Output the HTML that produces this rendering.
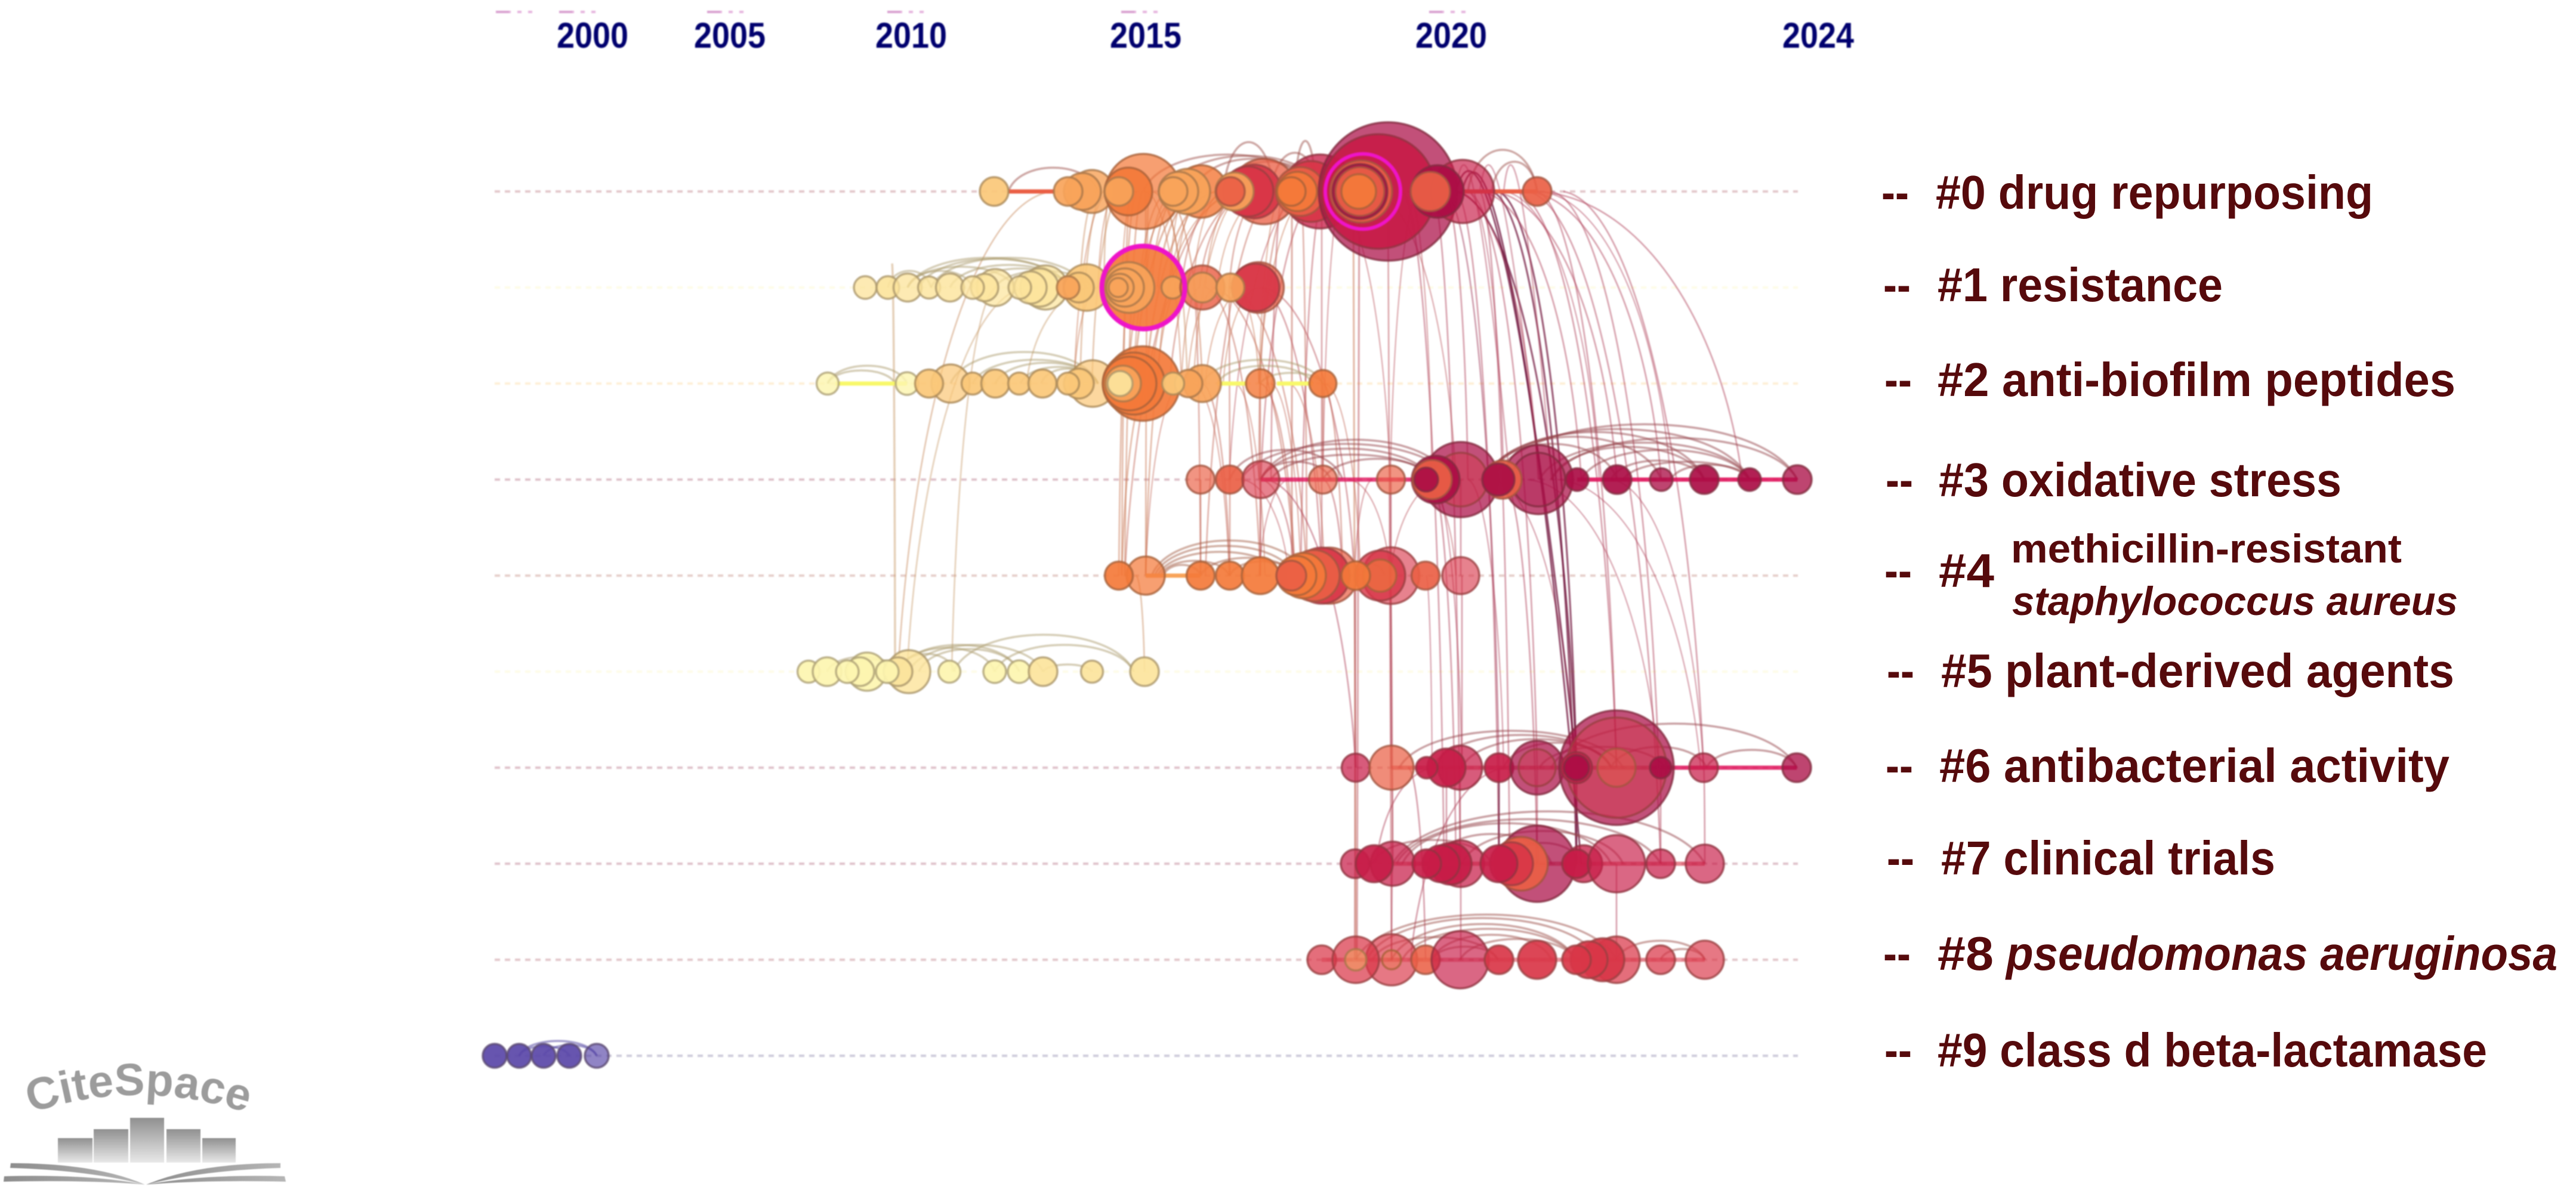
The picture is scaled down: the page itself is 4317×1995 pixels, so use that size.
<!DOCTYPE html>
<html lang="en">
<head>
<meta charset="utf-8">
<title>CiteSpace timeline view</title>
<style>
html,body{margin:0;padding:0;background:#fff;}
svg{display:block;}
.lab{font-family:"Liberation Sans",sans-serif;font-weight:700;fill:#560a0c;}
.tick{font-family:"Liberation Sans",sans-serif;font-weight:700;fill:#00006e;}
</style>
</head>
<body>
<svg id="chart" xmlns="http://www.w3.org/2000/svg" width="4317" height="1995" viewBox="0 0 4317 1995">
  <defs>
    <linearGradient id="barFade" x1="0" y1="0" x2="0" y2="1">
      <stop offset="0" stop-color="#909090"/>
      <stop offset="1" stop-color="#e8e8e8"/>
    </linearGradient>
    <linearGradient id="pageFade" x1="0" y1="0" x2="1" y2="0">
      <stop offset="0" stop-color="#8d8d8d"/>
      <stop offset="1" stop-color="#b5b5b5"/>
    </linearGradient>
  </defs>
  <rect width="4317" height="1995" fill="#ffffff"/>
  <g id="plot" style="filter:blur(1px)"></g>

  <g>
    <g>
      <text class="lab" x="3153" y="350" font-size="80" textLength="46" lengthAdjust="spacingAndGlyphs">--</text>
      <text class="lab" x="3244" y="350" font-size="80" textLength="733" lengthAdjust="spacingAndGlyphs">#0 drug repurposing</text>
    </g>
    <g>
      <text class="lab" x="3156" y="505" font-size="80" textLength="46" lengthAdjust="spacingAndGlyphs">--</text>
      <text class="lab" x="3247" y="505" font-size="80" textLength="478" lengthAdjust="spacingAndGlyphs">#1 resistance</text>
    </g>
    <g>
      <text class="lab" x="3158" y="664" font-size="80" textLength="46" lengthAdjust="spacingAndGlyphs">--</text>
      <text class="lab" x="3247" y="664" font-size="80" textLength="868" lengthAdjust="spacingAndGlyphs">#2 anti-biofilm peptides</text>
    </g>
    <g>
      <text class="lab" x="3160" y="832" font-size="80" textLength="46" lengthAdjust="spacingAndGlyphs">--</text>
      <text class="lab" x="3249" y="832" font-size="80" textLength="675" lengthAdjust="spacingAndGlyphs">#3 oxidative stress</text>
    </g>
    <g>
      <text class="lab" x="3158" y="984" font-size="80" textLength="46" lengthAdjust="spacingAndGlyphs">--</text>
      <text class="lab" x="3249" y="984" font-size="80" textLength="93" lengthAdjust="spacingAndGlyphs">#4</text>
      <text class="lab" x="3370" y="943" font-size="68" textLength="655" lengthAdjust="spacingAndGlyphs">methicillin-resistant</text>
      <text class="lab" x="3372" y="1031" font-size="68" font-style="italic" textLength="747" lengthAdjust="spacingAndGlyphs">staphylococcus aureus</text>
    </g>
    <g>
      <text class="lab" x="3162" y="1152" font-size="80" textLength="46" lengthAdjust="spacingAndGlyphs">--</text>
      <text class="lab" x="3253" y="1152" font-size="80" textLength="860" lengthAdjust="spacingAndGlyphs">#5 plant-derived agents</text>
    </g>
    <g>
      <text class="lab" x="3160" y="1311" font-size="80" textLength="46" lengthAdjust="spacingAndGlyphs">--</text>
      <text class="lab" x="3250" y="1311" font-size="80" textLength="855" lengthAdjust="spacingAndGlyphs">#6 antibacterial activity</text>
    </g>
    <g>
      <text class="lab" x="3162" y="1466" font-size="80" textLength="46" lengthAdjust="spacingAndGlyphs">--</text>
      <text class="lab" x="3253" y="1466" font-size="80" textLength="560" lengthAdjust="spacingAndGlyphs">#7 clinical trials</text>
    </g>
    <g>
      <text class="lab" x="3156" y="1626" font-size="80" textLength="46" lengthAdjust="spacingAndGlyphs">--</text>
      <text class="lab" x="3247" y="1626" font-size="80" textLength="94" lengthAdjust="spacingAndGlyphs">#8</text>
      <text class="lab" x="3362" y="1626" font-size="80" font-style="italic" textLength="924" lengthAdjust="spacingAndGlyphs">pseudomonas aeruginosa</text>
    </g>
    <g>
      <text class="lab" x="3158" y="1788" font-size="80" textLength="46" lengthAdjust="spacingAndGlyphs">--</text>
      <text class="lab" x="3247" y="1788" font-size="80" textLength="921" lengthAdjust="spacingAndGlyphs">#9 class d beta-lactamase</text>
    </g>
  </g>

  <g style="filter:blur(.8px)">
    <path id="logoArc" d="M52,1866 Q245,1800 450,1878" fill="none"/>
    <text font-family="'Liberation Sans',sans-serif" font-weight="700" font-size="76" fill="#9c9c9c"><textPath href="#logoArc">CiteSpace</textPath></text>
    <rect x="97" y="1908" width="58" height="41" fill="url(#barFade)"/>
    <rect x="157" y="1893" width="58" height="56" fill="url(#barFade)"/>
    <rect x="218" y="1874" width="57" height="75" fill="url(#barFade)"/>
    <rect x="279" y="1893" width="57" height="56" fill="url(#barFade)"/>
    <rect x="339" y="1908" width="56" height="41" fill="url(#barFade)"/>
    <path d="M18,1950 L17,1958 Q150,1962 243,1986 Q160,1950 18,1950Z" fill="url(#pageFade)"/>
    <path d="M7,1972 L6,1981 Q150,1978 243,1986 Q150,1968 7,1972Z" fill="url(#pageFade)"/>
    <path d="M470,1950 L470,1958 Q340,1962 245,1986 Q330,1950 470,1950Z" fill="url(#pageFade)"/>
    <path d="M477,1972 L479,1981 Q340,1978 245,1986 Q340,1968 477,1972Z" fill="url(#pageFade)"/>
  </g>
</svg>

<script>
// Axis tick data (timeline slice units)
const tickYears = [2000, 2005, 2010, 2015, 2020, 2024];
const tickSlices = [19.3, 42.3, 72.7, 112, 163.2, 224.7];
const faintTickSlices = [6.7, 17.3, 42.1, 72.3, 111.5, 163.1];

// Cluster 0: drug repurposing
const c0Time = [86.6,103,101.4,99,111.6,109.1,107.5,121.3,119,117.5,116.6,131.8,130.2,129.2,126.9,126.2,141.2,139.7,137.9,137.4,136.4,152.6,151,148.1,147.9,147.9,147.7,165.1,160.9,159.7,177.6];
const c0Size = [24,36,31,24,63,40,24,44,38,33,24,55,45,42,32,24,62,51,41,33,24,116,96,52,46,41,29,53,44,33,24];
const c0Heat = [2,3.1,3,3,4.2,4,3,4.1,3,3,3,5.15,6,6,3,5,7.15,6,5,4,4,8.2,7,5,8,5,4,7.25,8,5,5];
// Cluster 1: resistance
const c1Time = [65,68.8,72.1,75.7,79.2,86.8,85,83,95.2,94.2,92.7,90.9,102.1,100.8,99,111.6,109.2,108.5,107.7,107.4,116.5,121.5,121.5,130.9,130.4,126.2];
const c1Size = [19,19,23.5,18.5,23.5,31,23,19,37,32,27,19,39,25,19,69.5,42.5,32,23,16,18.5,37,25,42.5,40,23.5];
const c1Heat = [1.15,1,1.15,1.1,1.1,1.2,1.1,1.15,1.2,1.1,1.1,1.15,2,2,3,4,3,3,3,3,3,5.1,3.1,5.2,6,3];
// Cluster 2: anti-biofilm peptides
const c2Time = [58.7,72,79.3,75.7,83,86.8,90.8,94.7,103.1,100.8,99,111.5,110,109.3,108.2,107.7,121.5,119.2,116.6,131.2,141.7];
const c2Size = [18.5,19,32,23.5,18.5,23.5,18.5,23.5,39,25,18.5,62.5,52,45,30,21,31,23,18.5,24,22.7];
const c2Heat = [0.1,0.1,2.2,2,2,2,2,2,2.2,2,2,4,4,4,3,1,3,3,2,4.1,4];
// Cluster 3: oxidative stress
const c3Time = [121.2,126.1,131.3,141.7,153.1,164.8,164.8,160.6,160,159,177.8,177.8,171.8,171.1,184.3,191,198.4,205.6,213.2,221.2];
const c3Size = [23.5,23.5,31,23.5,23.5,63,45,40,33,20,58,45,32,27,19,24,19,24,19,24];
const c3Heat = [5.25,5,6.3,5.25,5.25,8.2,6.5,8,5,8,8.2,8.6,5,8,8,8,8.15,8,8,8.15];
// Cluster 4: methicillin-resistant staphylococcus aureus
const c4Time = [112,107.5,121.2,126.1,131.2,142.8,141.5,140.2,138.4,137.3,136.4,153.1,151.3,151.3,147.2,158.9,164.8];
const c4Size = [32,23.5,23.5,23.5,31,47,47,43,38,33,25,47.5,42,27,24,23.5,31];
const c4Heat = [4.2,4,4,4,4,5.2,6,5,4,4,5,6.3,6.1,4.3,4,5,6.3];
// Cluster 5: plant-derived agents
const c5Time = [55.5,58.6,65.3,64.1,62,72.3,70.5,68.7,79.1,86.7,90.8,94.8,103,111.8];
const c5Size = [18.5,24,32,24,19,36,24,19,18.5,19,19,24,18.5,24];
const c5Heat = [0,0,0,0,0,1.1,1,0,0,0,0,1,1,1];
// Cluster 6: antibacterial activity
const c6Time = [147.2,153.2,164.7,162.4,159.1,171.2,177.6,177.6,190.9,190.9,190.9,184.2,184.2,198.3,205.5,221.1];
const c6Size = [23.5,37,37,32,18,24,45,31,96,84,32,26,21,18,24,24];
const c6Heat = [7.2,5.2,7.2,7,7,7,8.2,6.6,8.2,6.5,5.5,7.1,8,8,7.2,8.15];
// Cluster 7: clinical trials
const c7Time = [147.1,153.4,150.3,164.8,163.1,161.5,159.1,177.6,174.9,173.3,171.2,185.4,184.2,190.9,198.3,205.7];
const c7Size = [24,37,31,39,35,31,24,64,45,36,31,31,24,48,24,32];
const c7Heat = [7.2,7.2,7,7.2,7,7,7,8.2,5,6,7,7.15,7,7.25,7.2,7.25];
// Cluster 8: pseudomonas aeruginosa
const c8Time = [141.5,153.2,153.2,147.2,147.2,158.9,164.7,171.2,177.6,190.9,188.6,186.3,184.2,198.3,205.7];
const c8Size = [24,43,16,39,18,24,48,24,32,39,36,31,24,24,32];
const c8Heat = [6.2,6.25,4.6,6.2,3.4,5.05,7.25,6,6,6.2,6,6,6,6.2,6.25];
// Cluster 9: class d beta-lactamase
const c9Time = [2.9,7,11.1,15.4,20];
const c9Size = [20,20,20,20,20];
const c9Heat = [9,9,9,9,9.25];

const clusterTimes = [c0Time,c1Time,c2Time,c3Time,c4Time,c5Time,c6Time,c7Time,c8Time,c9Time];
const clusterSizes = [c0Size,c1Size,c2Size,c3Size,c4Size,c5Size,c6Size,c7Size,c8Size,c9Size];
const clusterHeats = [c0Heat,c1Heat,c2Heat,c3Heat,c4Heat,c5Heat,c6Heat,c7Heat,c8Heat,c9Heat];
const clusterLineHeat = [6,0,2,7,5,0,7,7,6,9];
const clusterLineEnd = [221.3,221.3,221.3,221.3,221.3,221.3,221.3,221.3,221.3,221.3];
const clusterLineStart = [2.9,2.9,2.9,2.9,2.9,2.9,2.9,2.9,2.9,2.9];

// High-centrality rings (magenta)
const burstRow = [0,1];
const burstTime = [148.4,111.6];
const burstSize = [63,69.5];

// Thick burst spans along cluster lines
const spanRow = [0,0,2,2,2,3,3,4,6,6,7,8];
const spanStart = [89,165,60,124,134,131.3,184.3,112,153.2,198.3,153.4,141.5];
const spanEnd = [96.6,177.6,72,129,140,160,221.2,121.2,198.3,221.1,205.7,205.7];
const spanHeat = [5,5,0,0,0,7.2,7.1,3,6.4,7.15,6.4,6.5];

// Arcs within each cluster: start, end (slices), rise above the line
const arcStart = [
 [89,111.6,116,120,124,125,137,133,166,170],
 [72.1,74,76,72.1,79.2,83,86.8,68.8,72.1],
 [58.7,58.7,79.3,83,86.8,91,94.5,121.5,124,131.2],
 [131.3,128,131.3,133,141.7,126.1,131.3,170,169,169,169,169,180,178,180,185,190,192,200],
 [113,113.5,114,114.5,115,121.2,126.1,147.2],
 [79.8,86.7,70.5,70.5,70.5,72.3,74,58.6,62,94.8],
 [180,154.5,160,165,172,178,206,190],
 [153.4,154,155,160,165,172,150],
 [147.2,149,153.2,155,160,164.7,150,160,190.9,198.3],
 [7,11.1,7]
];
const arcEnd = [
 [104,140,142,140,141,133.5,140.5,141,177.6,177.6],
 [99,99,102.1,90,99,99,103,76,83],
 [72,70,104,104,104,104,103.5,141.7,140,141.7],
 [163,163,160,160,160,145,143,221.2,213.2,205.6,198.4,191,221.2,213.2,205.6,213.2,205.6,213.2,213.2],
 [139,137,135,126,121.2,137,137,152],
 [110,110,90.8,86.7,80,94.8,90.8,70.5,70.5,103],
 [221.1,192,190,190,190,199,221.1,206],
 [205.7,198.3,190,180,192,185,170],
 [190.9,188,184,184,180,184,171,171,205.7,205.7],
 [20,20,15.4]
];
const arcRise = [
 [40,62,60,55,50,83,85,65,70,50],
 [50,48,50,35,38,32,28,28,28],
 [30,22,53,40,35,28,25,40,30,18],
 [67,60,52,42,35,50,30,93,85,80,72,60,70,62,55,50,32,30,25],
 [59,50,40,25,18,30,24,20],
 [62,45,45,40,30,45,38,25,20,12],
 [74,62,55,48,42,35,30,35],
 [88,75,68,50,55,35,40],
 [76,70,60,52,42,35,38,22,32,18],
 [25,18,16]
];

// Links between clusters
const linkFromRow = [0,0.75,1,1,1,0,0,0,0,0,
 0,0,0,0,0,0,0,0,0,0,
 0,0,0,0,0,0,0,0,0,0,
 0,0,1,1,1,1,1,1,2,2,
 2,1,1,2,2,2,2,3,3,3,
 3,3,3,3,0,0,0,0,0,0,
 0,3,0,0,0,0,0,0,0,0,
 0,0,0,0,0,0,0,0,7,7,
 6,7,6,6,6,6,6,6,6,6,
 6,6,3,3,4,4,0,0,3,0,
 0,0,0,0,0,0,0,0,0,0,
 1,1,1,1,1,1,1,1,
 0,0,0,0,0,0,
 2,2,2,2,2,2,
 0,0,0,0,0,0,
 3,3,3,3,3,3,
 3,3,3,3,3,3,
 4,4,4,4,4,
 0,0,0];
const linkFromTime = [96.3,69.5,87,92,103,104,105,106,108,109.5,
 110.5,111.5,112.5,114,115,118,118.5,121,121.5,124,
 126,127,130,130,132,134,136.5,137,138,141.5,
 141.5,142,122,123,126,131,131.5,117.5,112.5,131.2,
 141.7,120,126,121.5,131.2,131.2,141.7,131.3,121.2,126.1,
 131.3,141.7,153.1,164.8,146.8,147.8,152.6,155,160,162,
 164,172,168,166,170,171,164,174,177.6,176,
 180,182,177.6,176,170,168,164,162,164.8,190.9,
 153.2,153.4,156,160.5,172.6,184.2,198.3,205.5,177.6,171.2,
 162.4,164.7,132,153,165,110.4,112,116,160,135,
 107,110,113,117,119,122,125,128,129,133,
 104,112,118,121,124,127,131,129,
 106,112,123,129,135,140,
 118,120,127,133,136,142,
 139,143,145,150,156,158,
 128,136,146,150,158,162,
 160,166,170,176,181,190,
 147,153,159,147.2,153,
 166,172,178];
const linkToRow = [5,5,5,5,2,1,2,1,2,4,
 4,4,4,2,2,1,2,2,1,2,
 1,4,1,2,1,4,4,2,4,4,
 3,4,4,4,4,4,4,4,4,4,
 3,4,3,4,4,3,4,4,4,4,
 4,4,4,4,8,8,8,7,7,6,
 7,7,7,6,7,6,6,6,6,7,
 6,6,3,3,3,3,3,3,8,8,
 7,8,8,7,8,7,7,7,7,7,
 7,7,6,6,6,5,1,1,7,3,
 1,1,1,1,1,1,1,1,1,1,
 2,2,2,2,2,2,2,2,
 2,2,2,2,2,2,
 4,4,4,4,4,4,
 3,3,3,3,3,3,
 4,4,4,4,4,4,
 6,6,6,6,6,6,
 6,6,6,8,7,
 3,3,3];
const linkToTime = [70.5,70,79.5,72,92,101,101,105,103,108,
 107.5,108.5,112,119,121.5,113,109,110,114,112,
 118,108.5,121,116,126,122,136.5,131.2,139,141.5,
 131.3,138,131.2,137,139,141.5,147,112,108,131.2,
 141.7,121.2,126.1,126.1,137,131,145,137,121.2,126.1,
 131.2,145,153.1,164.8,147.2,147.4,153.2,162,164.7,171.2,
 171.2,177.6,173,177.6,184.2,184.2,184.2,190.9,190.9,198.3,
 198,205.5,212,198.4,191,185,177.8,166,164.8,190.9,
 153.4,153.2,158.9,150.6,156.4,184.2,198.3,205.7,177.6,171.2,
 162.4,164.7,147.2,153.2,165,111.8,112,111,164,133,
 104,108,118,112,116,117,120,122,116,124,
 100,110,113,118,119,131,125,122,
 100,118,114,120,131,131,
 112,126,132,138,142,148,
 126,153,141.7,164,160,153,
 136,131,153,147,164,153,
 165,172,184,198,205,205.5,
 147.2,153.2,160,147,153.4,
 172,188,200];
const linkHeat = [3,2,2,2,2,3,3,3,3,4,
 4,4,4,3,4,4,4,4,4,4,
 5,5,5,5,5,5,5,5,5,6,
 6,6,5,5,5,6,6,4,4,5,
 5,5,5,5,5,5,5,6,5,5,
 6,6,6,7,4,6,6,7,7,8,
 7,7,7,7,8,8,8,7,7,7,
 7,7,7,7,7,7,7,7,7,7,
 7,7,7,7,7,8,7,7,7,8,
 7,7,7,7,7,3,4,4,7,6,
 4,4,4,4,4,4,4,4,4,4,
 4,4,4,4,4,4,4,4,
 4,4,4,4,4,4,
 5,5,5,5,5,5,
 6,6,6,6,6,6,
 6,6,6,6,6,6,
 7,7,7,7,7,7,
 7,7,7,6,6,
 7,7,7];
const linkWeight = [2.5,3.5,2.5,2.5,2.5,2.5,2.5,2.5,2.5,2.5,
 2.5,2.5,2.5,2.5,2.5,2.5,2.5,3,3,3,
 2.5,2.5,2.5,2.5,2.5,2.5,3,2.5,2.5,2.5,
 2.5,2.5,2.5,2.5,2.5,2.5,2.5,2.5,2.5,2.5,
 2.5,2.5,2.5,2.5,2.5,2.5,2.5,2.5,2.5,2.5,
 2.5,2.5,2.5,2.5,3,3,2.5,2.5,2.5,2.5,
 2.5,2.5,2.5,2.5,3,3,3,2.5,2.5,2.5,
 2.5,2.5,2.5,2.5,2.5,2.5,2.5,2.5,2.5,2.5,
 2.5,2.5,2.5,2.5,2.5,3,2.5,2.5,2.5,3,
 2.5,2.5,2.5,2.5,2.5,2.5,2.5,2.5,2.5,2.5,
 2,2,2,2,2,2,2,2,2,2,
 2,2,2,2,2,2,2,2,
 2,2,2,2,2,2,
 2,2,2,2,2,2,
 2,2,2,2,2,2,
 2,2,2,2,2,2,
 2,2,2,2,2,2,
 2,2,2,2,2,
 2,2,2];

// Links that rise above cluster 0 before falling to their target
const archFromTime = [164,165,164,172,168];
const archToRow = [6,7,3,3,3];
const archToTime = [184.2,185,173,180,178];
const archHeat = [8,8,7,7,7];

// Axis functions
function xScale(slice) { return 800 + slice * 10; }
function yScale(row) { return 321 + row * 161; }
function rScale(size) { return size; }

// Colour scale from publication-time heat; fractional part fades the mark
function heatColor(heat) {
  const stops = ['#fdf5b0','#fce49c','#fbc878','#f8a45a','#f47a3a','#ea5f45','#d93648','#c81c48','#ab0d45','#5a47a8'];
  return stops[Math.min(9, Math.max(0, Math.floor(heat)))];
}
function heatFade(heat) { return heat - Math.floor(heat); }
function mix(a, b, k) {
  const p = h => [parseInt(h.slice(1,3),16),parseInt(h.slice(3,5),16),parseInt(h.slice(5,7),16)];
  const A = p(a), B = p(b);
  return 'rgb(' + A.map((v,i) => Math.round(v + (B[i]-v)*k)).join(',') + ')';
}

const SVGNS = 'http://www.w3.org/2000/svg';
const plot = document.getElementById('plot');
function make(tag, attrs, parent) {
  const el = document.createElementNS(SVGNS, tag);
  for (const key in attrs) el.setAttribute(key, attrs[key]);
  parent.appendChild(el);
  return el;
}
function group(parent) { return make('g', {}, parent); }

// Cluster guide lines
const guideGroup = group(plot);


clusterLineHeat.forEach((h, row) => {
  const base = heatColor(h);
  const line = make('line', {
    x1: xScale(clusterLineStart[row]), x2: xScale(clusterLineEnd[row]),
    y1: yScale(row), y2: yScale(row),
    stroke: h <= 2 ? base : mix(base, '#aaaaaa', 0.6),
    'stroke-opacity': h <= 2 ? 0.3 : 0.42,
    'stroke-width': 4, 'stroke-dasharray': '9 8'
  }, guideGroup);
  
  
});

// Inter-cluster links
const linkGroup = group(plot);


linkFromTime.forEach((t, i) => {
  const x1 = xScale(t), y1 = yScale(linkFromRow[i]);
  const x2 = xScale(linkToTime[i]), y2 = yScale(linkToRow[i]);
  const dx = x2 - x1, dy = y2 - y1;
  const d = 'M' + x1 + ',' + y1 + ' C' + (x1 + 0.5*dx) + ',' + (y1 + 0.02*dy) + ' ' + (x1 + 0.9*dx) + ',' + (y1 + 0.45*dy) + ' ' + x2 + ',' + y2;
  const dark = linkWeight[i] >= 3 && linkHeat[i] >= 8;
  const link = make('path', {
    d: d, fill: 'none',
    stroke: dark ? '#6d0f38' : mix(heatColor(linkHeat[i]), '#806060', 0.4),
    'stroke-opacity': dark ? 0.72 : 0.5,
    'stroke-width': linkWeight[i]
  }, linkGroup);
  
  
});
archFromTime.forEach((t, i) => {
  const x1 = xScale(t), y1 = yScale(0);
  const x2 = xScale(archToTime[i]), y2 = yScale(archToRow[i]);
  const dx = x2 - x1, dy = y2 - y1;
  const d = 'M' + x1 + ',' + y1 + ' C' + (x1 + 0.2*dx) + ',' + (y1 - 150) + ' ' + (x1 + 0.6*dx) + ',' + (y1 + 0.2*dy) + ' ' + x2 + ',' + y2;
  const strong = archHeat[i] >= 8;
  const arch = make('path', {
    d: d, fill: 'none',
    stroke: strong ? '#6d0f38' : mix(heatColor(archHeat[i]), '#806060', 0.4),
    'stroke-opacity': strong ? 0.75 : 0.45,
    'stroke-width': strong ? 3 : 2.5
  }, linkGroup);
  
  
});

// Within-cluster arcs
const arcGroup = group(plot);


arcStart.forEach((starts, row) => {
  const y = yScale(row);
  starts.forEach((s, i) => {
    const x1 = xScale(s), x2 = xScale(arcEnd[row][i]);
    const dx = x2 - x1, h = arcRise[row][i] * 1.33;
    const d = 'M' + x1 + ',' + y + ' C' + (x1 + 0.12*dx) + ',' + (y - h) + ' ' + (x2 - 0.12*dx) + ',' + (y - h) + ' ' + x2 + ',' + y;
    const arc = make('path', {
      d: d, fill: 'none',
      stroke: mix(heatColor(clusterLineHeat[row] <= 2 ? 1 : clusterLineHeat[row]), row === 9 ? '#3a3090' : '#6a6048', 0.55),
      'stroke-opacity': 0.5,
      'stroke-width': 3.5
    }, arcGroup);
    
    
  });
});

// Burst spans along cluster lines
const spanGroup = group(plot);


spanStart.forEach((s, i) => {
  const pale = spanHeat[i] < 1;
  const span = make('line', {
    x1: xScale(s), x2: xScale(spanEnd[i]), y1: yScale(spanRow[i]), y2: yScale(spanRow[i]),
    stroke: pale ? '#f8f86a' : (spanHeat[i] >= 7 ? '#e0145c' : heatColor(spanHeat[i])),
    'stroke-opacity': 1 - heatFade(spanHeat[i]),
    'stroke-width': 7
  }, spanGroup);
  
  
});

// Citation nodes (tree rings), in drawing order
const nodeGroup = group(plot);


clusterTimes.forEach((times, row) => {
  const rowGroup = group(nodeGroup);
  
  
  times.forEach((t, i) => {
    const heat = clusterHeats[row][i];
    const color = heatColor(heat);
    const node = make('circle', {
      cx: xScale(t), cy: yScale(row), r: rScale(clusterSizes[row][i]),
      fill: color,
      'fill-opacity': (0.92 - heatFade(heat)).toFixed(2),
      stroke: mix(color, '#5a4a3a', 0.5),
      'stroke-opacity': 0.8,
      'stroke-width': 3.5
    }, rowGroup);
    
    
  });
});

// Magenta centrality rings
const burstGroup = group(plot);


burstTime.forEach((t, i) => {
  const ring = make('circle', {
    cx: xScale(t), cy: yScale(burstRow[i]), r: rScale(burstSize[i]),
    fill: 'none', stroke: '#ee14c8', 'stroke-width': i === 0 ? 6 : 8
  }, burstGroup);
  
  
});

// Year axis
const axisGroup = group(plot);


faintTickSlices.forEach(s => {
  const cx = xScale(s);
  const mark = make('line', {
    x1: cx - 36, x2: cx + 36, y1: 20, y2: 20,
    stroke: '#e6b4de', 'stroke-width': 4, 'stroke-dasharray': '7 11'
  }, axisGroup);
  
  
  const head = make('line', {
    x1: cx - 36, x2: cx - 14, y1: 20, y2: 20,
    stroke: '#d9a0d0', 'stroke-width': 4
  }, axisGroup);
  
  
});
tickYears.forEach((year, i) => {
  const label = make('text', {
    x: xScale(tickSlices[i]) - 60, y: 80,
    'font-size': 60, textLength: 120, lengthAdjust: 'spacingAndGlyphs',
    class: 'tick'
  }, axisGroup);
  label.textContent = String(year);
  
  
});
</script>
</body>
</html>
